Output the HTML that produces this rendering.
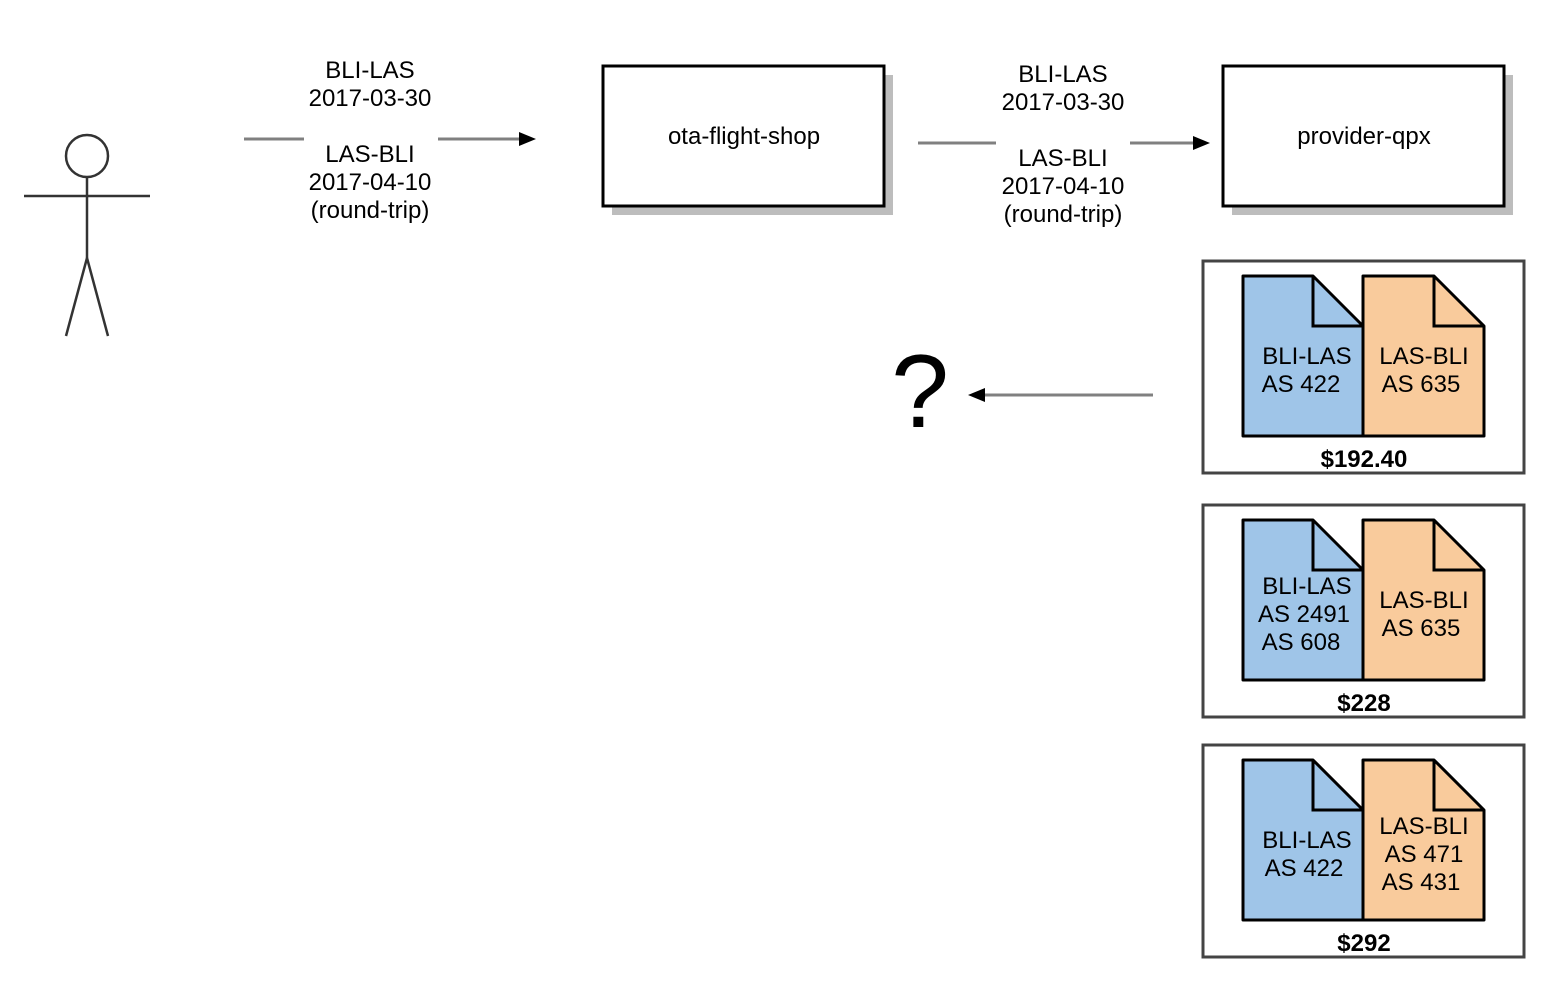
<!DOCTYPE html>
<html><head><meta charset="utf-8"><style>
html,body{margin:0;padding:0;background:#fff;}
svg{display:block;}
text{font-family:"Liberation Sans",Arial,sans-serif;fill:#000;}
</style></head><body>
<svg width="1556" height="994" viewBox="0 0 1556 994" xmlns="http://www.w3.org/2000/svg">
<defs>
<g id="docs">
  <path d="M1243,0 H1313 L1363,50 V160 H1243 Z" fill="#9fc5e8" stroke="#000" stroke-width="3" stroke-linejoin="round"/>
  <path d="M1313,0 V50 H1363" fill="none" stroke="#000" stroke-width="3"/>
  <path d="M1363,0 H1434 L1484,50 V160 H1363 Z" fill="#f9cb9c" stroke="#000" stroke-width="3" stroke-linejoin="round"/>
  <path d="M1434,0 V50 H1484" fill="none" stroke="#000" stroke-width="3"/>
</g>
</defs>

<g stroke="#333" stroke-width="2.5" fill="none">
  <circle cx="87" cy="156" r="21" fill="#fff"/>
  <line x1="87" y1="177" x2="87" y2="258"/>
  <line x1="24" y1="196" x2="150" y2="196"/>
  <line x1="87" y1="258" x2="66" y2="336"/>
  <line x1="87" y1="258" x2="108" y2="336"/>
</g>

<g stroke="#808080" stroke-width="3">
  <line x1="244" y1="139" x2="304" y2="139"/>
  <line x1="438" y1="139" x2="522" y2="139"/>
</g>
<polygon points="536,139 519,132 519,146" fill="#000"/>
<g font-size="24" text-anchor="middle">
  <text x="370" y="78">BLI-LAS</text>
  <text x="370" y="106">2017-03-30</text>
  <text x="370" y="162">LAS-BLI</text>
  <text x="370" y="190">2017-04-10</text>
  <text x="370" y="218">(round-trip)</text>
</g>

<rect x="612" y="75" width="281" height="140" fill="#bdbdbd"/>
<rect x="603" y="66" width="281" height="140" fill="#fff" stroke="#000" stroke-width="3"/>
<text x="744" y="144" font-size="24" text-anchor="middle">ota-flight-shop</text>

<g stroke="#808080" stroke-width="3">
  <line x1="918" y1="143" x2="996" y2="143"/>
  <line x1="1130" y1="143" x2="1196" y2="143"/>
</g>
<polygon points="1210,143 1193,136 1193,150" fill="#000"/>
<g font-size="24" text-anchor="middle">
  <text x="1063" y="82">BLI-LAS</text>
  <text x="1063" y="110">2017-03-30</text>
  <text x="1063" y="166">LAS-BLI</text>
  <text x="1063" y="194">2017-04-10</text>
  <text x="1063" y="222">(round-trip)</text>
</g>

<rect x="1232" y="75" width="281" height="140" fill="#bdbdbd"/>
<rect x="1223" y="66" width="281" height="140" fill="#fff" stroke="#000" stroke-width="3"/>
<text x="1364" y="144" font-size="24" text-anchor="middle">provider-qpx</text>

<text x="920" y="427" font-size="104" text-anchor="middle">?</text>
<line x1="982" y1="395" x2="1153" y2="395" stroke="#808080" stroke-width="3"/>
<polygon points="968,395 985,388 985,402" fill="#000"/>

<rect x="1203" y="261" width="321" height="212" fill="#fff" stroke="#444" stroke-width="3"/>
<use href="#docs" transform="translate(0,276)"/>
<g font-size="24" text-anchor="middle">
  <text x="1307" y="364">BLI-LAS</text>
  <text x="1301" y="392">AS 422</text>
  <text x="1424" y="364">LAS-BLI</text>
  <text x="1421" y="392">AS 635</text>
</g>
<text x="1364" y="467" font-size="24" font-weight="bold" text-anchor="middle">$192.40</text>

<rect x="1203" y="505" width="321" height="212" fill="#fff" stroke="#444" stroke-width="3"/>
<use href="#docs" transform="translate(0,520)"/>
<g font-size="24" text-anchor="middle">
  <text x="1307" y="594">BLI-LAS</text>
  <text x="1304" y="622">AS 2491</text>
  <text x="1301" y="650">AS 608</text>
  <text x="1424" y="608">LAS-BLI</text>
  <text x="1421" y="636">AS 635</text>
</g>
<text x="1364" y="711" font-size="24" font-weight="bold" text-anchor="middle">$228</text>

<rect x="1203" y="745" width="321" height="212" fill="#fff" stroke="#444" stroke-width="3"/>
<use href="#docs" transform="translate(0,760)"/>
<g font-size="24" text-anchor="middle">
  <text x="1307" y="848">BLI-LAS</text>
  <text x="1304" y="876">AS 422</text>
  <text x="1424" y="834">LAS-BLI</text>
  <text x="1424" y="862">AS 471</text>
  <text x="1421" y="890">AS 431</text>
</g>
<text x="1364" y="951" font-size="24" font-weight="bold" text-anchor="middle">$292</text>
</svg>
</body></html>
